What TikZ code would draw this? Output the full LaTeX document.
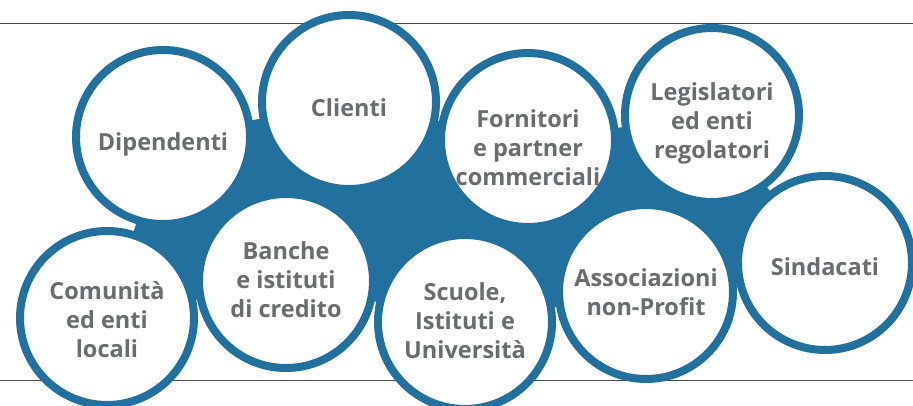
\documentclass[tikz,border=0pt]{standalone}
\usepackage{fontspec}
\setmainfont{Open Sans}
\definecolor{ringblue}{HTML}{21709E}
\definecolor{txtgray}{HTML}{6B6C70}
\definecolor{rulegray}{HTML}{4A4A4A}
\begin{document}
\begin{tikzpicture}[x=1pt,y=1pt,
  ring/.style={circle,draw=ringblue,line width=8pt,fill=white,minimum size=174pt,inner sep=0pt},
  lbl/.style={align=center,text=txtgray,font=\fontsize{23.5}{29}\selectfont\bfseries,inner sep=0pt}]
\useasboundingbox (0,0) rectangle (913,405);
\clip (0,0) rectangle (913,405);
\fill[white] (0,0) rectangle (913,405);
\coordinate (lt1) at (0,381);
\coordinate (lt2) at (913,381);
\coordinate (lb1) at (0,25);
\coordinate (lb2) at (913,25);
\draw[rulegray,line width=1pt] (lt1) -- (lt2);
\draw[rulegray,line width=1pt] (lb1) -- (lb2);
% circle centres
\coordinate (cdip) at (163,268);
\coordinate (ccli) at (349,303);
\coordinate (cfor) at (528,265);
\coordinate (cleg) at (712,290);
\coordinate (csin) at (825,142);
\coordinate (cass) at (646,113);
\coordinate (csc) at (465,83);
\coordinate (cban) at (286,124);
\coordinate (ccom) at (107,87);
\fill[ringblue] (ccom) -- (cdip) -- (ccli) -- (cfor) -- (cleg) -- (csin) -- (cass) -- (csc) -- (cban) -- cycle;
\node[ring] (dip) at (cdip) {};
\node[ring] (cli) at (ccli) {};
\node[ring] (for) at (cfor) {};
\node[ring] (leg) at (cleg) {};
\node[ring] (sin) at (csin) {};
\node[ring] (ass) at (cass) {};
\node[ring] (sc) at (csc) {};
\node[ring] (ban) at (cban) {};
\node[ring] (com) at (ccom) {};
\node[lbl] (tdip) at (163,261) {Dipendenti};
\node[lbl] (tcli) at (349,297) {Clienti};
\node[lbl] (tfor) at (528,257) {Fornitori\\e partner\\commerciali};
\node[lbl] (tleg) at (712,282) {Legislatori\\ed enti\\regolatori};
\node[lbl] (tsin) at (825,138) {Sindacati};
\node[lbl] (tass) at (646,113) {Associazioni\\non-Profit};
\node[lbl] (tsc) at (465,84) {Scuole,\\Istituti e\\Università};
\node[lbl] (tban) at (286,125) {Banche\\e istituti\\di credito};
\node[lbl] (tcom) at (107,85) {Comunità\\ed enti\\locali};
\end{tikzpicture}
\end{document}
